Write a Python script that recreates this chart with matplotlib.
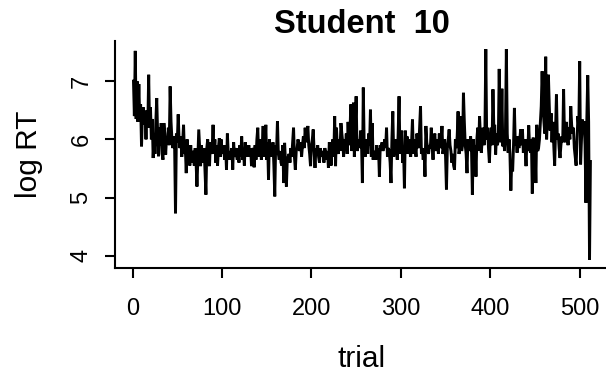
import numpy as np
import matplotlib
matplotlib.use("Agg")
import matplotlib.pyplot as plt

plt.rcParams["font.family"] = ["Liberation Sans", "DejaVu Sans"]

# ─── Data ─────────────────────────────────────────────────────────────────────

STUDENT = 10

log_rt = [
    7.00, 6.40, 7.52, 6.35, 7.00, 6.30, 6.95, 6.35, 6.60, 5.88,
    6.45, 6.55, 6.25, 6.45, 6.00, 6.50, 6.20, 7.11, 6.20, 6.55,
    6.00, 6.35, 5.68, 6.00, 5.75, 6.30, 6.71, 6.10, 5.71, 6.20,
    5.90, 6.28, 5.75, 5.65, 6.28, 6.10, 5.74, 6.05, 5.95, 6.20,
    5.90, 6.91, 6.30, 6.00, 5.85, 6.05, 5.90, 4.73, 6.10, 5.95,
    6.43, 6.00, 5.85, 6.05, 5.70, 5.95, 6.25, 5.75, 5.85, 5.42,
    6.00, 5.70, 5.85, 5.55, 5.90, 5.60, 5.80, 5.75, 5.55, 5.85,
    5.60, 5.19, 5.70, 6.17, 5.85, 5.54, 5.90, 5.70, 5.60, 5.85,
    5.45, 5.05, 5.85, 6.00, 5.70, 5.54, 5.95, 5.75, 5.85, 6.25,
    5.75, 6.00, 5.60, 5.90, 5.55, 5.85, 6.02, 5.70, 6.00, 5.75,
    5.90, 5.80, 5.65, 5.90, 5.48, 6.10, 5.75, 5.65, 5.80, 5.70,
    5.85, 5.48, 5.95, 5.70, 5.75, 5.85, 5.65, 5.80, 5.60, 5.90,
    5.70, 6.05, 5.65, 5.80, 5.55, 5.95, 5.70, 5.85, 5.75, 5.90,
    5.70, 5.85, 5.54, 5.80, 5.85, 5.52, 5.90, 5.65, 6.00, 6.20,
    5.70, 5.95, 6.00, 5.65, 5.90, 6.23, 5.70, 5.85, 6.25, 5.65,
    5.95, 5.31, 6.00, 5.75, 5.85, 5.70, 5.95, 5.55, 5.02, 5.90,
    5.80, 6.31, 5.75, 5.65, 5.80, 5.60, 5.55, 5.90, 5.25, 5.94,
    5.60, 5.19, 5.65, 5.70, 5.75, 5.60, 5.85, 5.70, 5.95, 6.20,
    5.70, 5.48, 5.80, 5.85, 6.00, 5.90, 5.80, 5.95, 5.70, 5.90,
    6.05, 5.85, 6.20, 5.95, 6.10, 6.23, 5.90, 5.75, 5.54, 5.90,
    6.00, 6.17, 5.80, 5.51, 5.85, 5.75, 5.90, 5.70, 5.60, 5.85,
    5.70, 5.80, 5.75, 5.60, 5.85, 5.75, 5.65, 5.80, 5.51, 5.95,
    5.80, 5.55, 5.90, 6.00, 5.70, 6.40, 5.54, 6.20, 5.85, 5.75,
    6.00, 5.80, 6.28, 6.10, 5.95, 5.70, 6.00, 5.85, 6.10, 5.75,
    6.30, 5.90, 6.05, 6.60, 5.80, 6.00, 6.63, 5.70, 6.20, 6.74,
    5.80, 5.90, 6.00, 5.85, 6.15, 5.95, 5.25, 6.89, 5.90, 5.70,
    5.85, 6.00, 5.75, 6.10, 5.90, 6.51, 5.70, 6.28, 5.65, 5.80,
    5.75, 5.65, 5.90, 5.70, 5.85, 5.36, 5.90, 5.85, 5.95, 5.80,
    5.90, 6.00, 5.85, 6.20, 5.70, 5.85, 5.80, 5.60, 5.25, 6.00,
    6.48, 5.70, 5.85, 6.00, 5.90, 5.65, 6.10, 6.74, 5.75, 5.90,
    6.15, 5.60, 5.85, 5.16, 6.15, 5.90, 6.05, 5.75, 6.00, 5.80,
    5.70, 5.95, 6.34, 5.75, 6.00, 5.85, 5.70, 6.10, 5.90, 5.85,
    6.20, 6.57, 5.75, 5.85, 5.65, 5.80, 5.36, 6.23, 5.95, 5.85,
    5.75, 5.90, 5.85, 6.20, 5.90, 5.65, 6.00, 6.10, 5.80, 5.90,
    6.00, 5.75, 6.10, 5.85, 5.95, 6.23, 5.75, 5.85, 6.00, 5.70,
    5.14, 5.85, 6.00, 6.17, 5.90, 5.80, 5.60, 5.75, 5.55, 5.48,
    6.00, 5.85, 6.05, 6.48, 5.75, 5.85, 6.40, 5.80, 5.90, 6.80,
    6.30, 5.90, 5.75, 5.42, 6.00, 5.90, 5.80, 6.05, 5.85, 5.05,
    6.00, 5.75, 5.90, 5.36, 6.00, 6.20, 5.80, 6.40, 6.05, 5.77,
    6.00, 6.20, 5.90, 6.10, 7.55, 6.00, 6.20, 5.85, 5.60, 6.00,
    6.20, 5.90, 6.86, 6.20, 6.25, 5.74, 6.10, 5.90, 6.00, 7.21,
    6.20, 5.95, 6.87, 5.88, 6.00, 5.80, 6.15, 7.55, 6.10, 5.77,
    6.00, 5.75, 5.12, 5.60, 5.45, 5.90, 6.54, 5.90, 6.00, 5.77,
    6.05, 5.85, 6.00, 6.17, 5.90, 6.17, 5.77, 6.00, 5.85, 5.54,
    6.00, 5.80, 6.24, 5.85, 5.77, 6.00, 5.07, 6.03, 5.77, 5.90,
    5.25, 6.25, 5.80, 5.85, 6.00, 6.30, 6.57, 7.17, 6.57, 6.30,
    6.10, 7.42, 6.00, 6.40, 7.11, 6.57, 6.15, 6.45, 5.95, 6.30,
    5.90, 5.55, 6.20, 6.77, 6.00, 6.10, 5.85, 5.68, 5.90, 6.05,
    5.95, 6.86, 6.05, 5.95, 6.30, 6.10, 5.90, 6.20, 6.00, 6.57,
    6.25, 6.10, 6.20, 5.85, 5.70, 5.55, 6.00, 6.40, 6.20, 7.34,
    5.57, 6.00, 6.34, 6.10, 6.31, 5.90, 4.91, 6.35, 7.10, 6.30,
    3.93, 5.62,
]
trial = np.arange(1, len(log_rt) + 1)

x_ticks = [0, 100, 200, 300, 400, 500]
y_ticks = [4, 5, 6, 7]


def padded(lo, hi, frac=0.04):
    span = hi - lo
    return lo - frac * span, hi + frac * span


# ─── Plot ─────────────────────────────────────────────────────────────────────

W, H = 606, 374
fig = plt.figure(figsize=(W / 100, H / 100), dpi=100, facecolor="white")
left, right, top, bottom = 115.2, 608.7, 40.7, 268.3
ax = fig.add_axes([left / W, 1 - bottom / H, (right - left) / W, (bottom - top) / H])

ax.plot(trial, log_rt, color="black", linewidth=2.1, solid_joinstyle="miter")

ax.set_xlim(*padded(trial.min(), trial.max()))
ax.set_ylim(*padded(min(log_rt), max(log_rt)))

ax.set_xticks(x_ticks)
ax.set_yticks(y_ticks)

for side in ("top", "right"):
    ax.spines[side].set_visible(False)
for side in ("left", "bottom"):
    ax.spines[side].set_linewidth(1.5)

ax.tick_params(axis="both", direction="out", length=7.5, width=1.5,
               labelsize=17, color="black", labelcolor="black")
ax.tick_params(axis="x", pad=14)
ax.tick_params(axis="y", pad=9, labelrotation=90)
for lbl in ax.get_yticklabels():
    lbl.set_va("center")

ax.set_title(f"Student  {STUDENT}", fontsize=23.5, fontweight="bold", pad=5.5)

ax.set_xlabel("trial", fontsize=21.5)
ax.xaxis.set_label_coords(0.5, -(366.7 - bottom) / (bottom - top))
ax.xaxis.label.set_va("baseline")

ax.set_ylabel("log RT", fontsize=21.5)
ax.yaxis.set_label_coords((29 - left) / (right - left), 0.5)
ax.yaxis.label.set_va("center")

plt.savefig("out.png", dpi=100, facecolor="white")
plt.close()
